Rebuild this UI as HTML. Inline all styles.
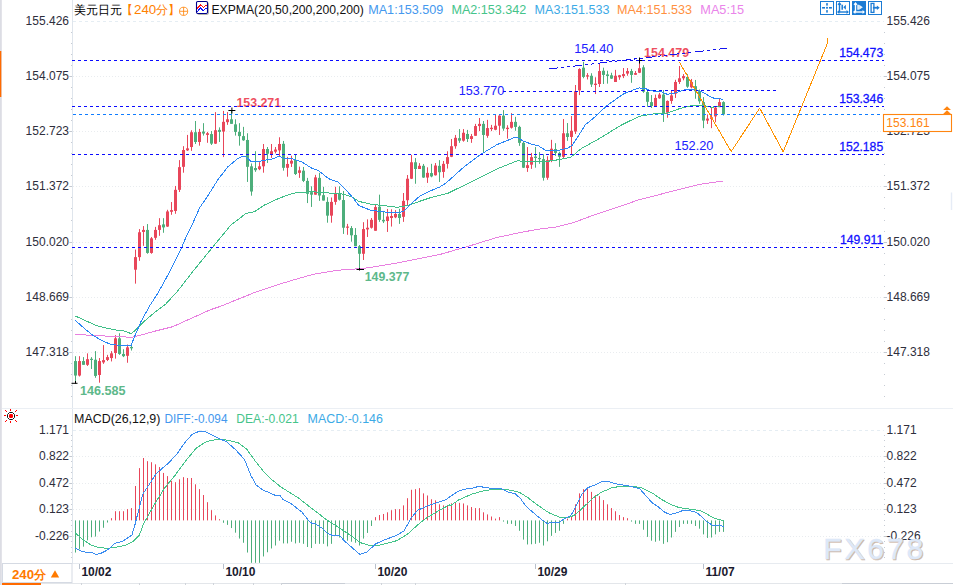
<!DOCTYPE html>
<html><head><meta charset="utf-8"><title>chart</title>
<style>
html,body{margin:0;padding:0;background:#fff}
body{width:953px;height:585px;overflow:hidden;position:relative}
svg{position:absolute;left:0;top:0;display:block}
text{font-family:"Liberation Sans",sans-serif}
</style></head><body>
<svg width="953" height="585" viewBox="0 0 953 585">
<rect x="0" y="0" width="953" height="585" fill="#ffffff"/>
<rect x="0" y="0" width="1.8" height="585" fill="#dcdde4"/>
<rect x="0" y="51" width="1.3" height="46" fill="#ff6a00"/>
<line x1="72.50" y1="0.00" x2="72.50" y2="563.00" stroke="#dfe5ec" stroke-width="1" />
<line x1="2.00" y1="408.50" x2="953.00" y2="408.50" stroke="#ebeff4" stroke-width="1" />
<rect x="950.8" y="192.5" width="1.4" height="17.5" fill="#e6ecf6"/>
<line x1="2.00" y1="563.50" x2="953.00" y2="563.50" stroke="#e7ebf0" stroke-width="1" />
<rect x="71" y="32.0" width="1" height="1" fill="#c6cbd3"/><rect x="884" y="32.0" width="1" height="1" fill="#c6cbd3"/>
<rect x="71" y="43.0" width="1" height="1" fill="#c6cbd3"/><rect x="884" y="43.0" width="1" height="1" fill="#c6cbd3"/>
<rect x="71" y="54.0" width="1" height="1" fill="#c6cbd3"/><rect x="884" y="54.0" width="1" height="1" fill="#c6cbd3"/>
<rect x="71" y="65.0" width="1" height="1" fill="#c6cbd3"/><rect x="884" y="65.0" width="1" height="1" fill="#c6cbd3"/>
<rect x="71" y="87.0" width="1" height="1" fill="#c6cbd3"/><rect x="884" y="87.0" width="1" height="1" fill="#c6cbd3"/>
<rect x="71" y="98.0" width="1" height="1" fill="#c6cbd3"/><rect x="884" y="98.0" width="1" height="1" fill="#c6cbd3"/>
<rect x="71" y="109.0" width="1" height="1" fill="#c6cbd3"/><rect x="884" y="109.0" width="1" height="1" fill="#c6cbd3"/>
<rect x="71" y="120.0" width="1" height="1" fill="#c6cbd3"/><rect x="884" y="120.0" width="1" height="1" fill="#c6cbd3"/>
<rect x="71" y="142.0" width="1" height="1" fill="#c6cbd3"/><rect x="884" y="142.0" width="1" height="1" fill="#c6cbd3"/>
<rect x="71" y="153.0" width="1" height="1" fill="#c6cbd3"/><rect x="884" y="153.0" width="1" height="1" fill="#c6cbd3"/>
<rect x="71" y="164.0" width="1" height="1" fill="#c6cbd3"/><rect x="884" y="164.0" width="1" height="1" fill="#c6cbd3"/>
<rect x="71" y="175.0" width="1" height="1" fill="#c6cbd3"/><rect x="884" y="175.0" width="1" height="1" fill="#c6cbd3"/>
<rect x="71" y="197.0" width="1" height="1" fill="#c6cbd3"/><rect x="884" y="197.0" width="1" height="1" fill="#c6cbd3"/>
<rect x="71" y="208.0" width="1" height="1" fill="#c6cbd3"/><rect x="884" y="208.0" width="1" height="1" fill="#c6cbd3"/>
<rect x="71" y="220.0" width="1" height="1" fill="#c6cbd3"/><rect x="884" y="220.0" width="1" height="1" fill="#c6cbd3"/>
<rect x="71" y="231.0" width="1" height="1" fill="#c6cbd3"/><rect x="884" y="231.0" width="1" height="1" fill="#c6cbd3"/>
<rect x="71" y="253.0" width="1" height="1" fill="#c6cbd3"/><rect x="884" y="253.0" width="1" height="1" fill="#c6cbd3"/>
<rect x="71" y="264.0" width="1" height="1" fill="#c6cbd3"/><rect x="884" y="264.0" width="1" height="1" fill="#c6cbd3"/>
<rect x="71" y="275.0" width="1" height="1" fill="#c6cbd3"/><rect x="884" y="275.0" width="1" height="1" fill="#c6cbd3"/>
<rect x="71" y="286.0" width="1" height="1" fill="#c6cbd3"/><rect x="884" y="286.0" width="1" height="1" fill="#c6cbd3"/>
<rect x="71" y="308.0" width="1" height="1" fill="#c6cbd3"/><rect x="884" y="308.0" width="1" height="1" fill="#c6cbd3"/>
<rect x="71" y="319.0" width="1" height="1" fill="#c6cbd3"/><rect x="884" y="319.0" width="1" height="1" fill="#c6cbd3"/>
<rect x="71" y="330.0" width="1" height="1" fill="#c6cbd3"/><rect x="884" y="330.0" width="1" height="1" fill="#c6cbd3"/>
<rect x="71" y="341.0" width="1" height="1" fill="#c6cbd3"/><rect x="884" y="341.0" width="1" height="1" fill="#c6cbd3"/>
<rect x="71" y="363.0" width="1" height="1" fill="#c6cbd3"/><rect x="884" y="363.0" width="1" height="1" fill="#c6cbd3"/>
<rect x="71" y="374.0" width="1" height="1" fill="#c6cbd3"/><rect x="884" y="374.0" width="1" height="1" fill="#c6cbd3"/>
<rect x="71" y="385.0" width="1" height="1" fill="#c6cbd3"/><rect x="884" y="385.0" width="1" height="1" fill="#c6cbd3"/>
<rect x="71" y="396.0" width="1" height="1" fill="#c6cbd3"/><rect x="884" y="396.0" width="1" height="1" fill="#c6cbd3"/>
<rect x="71" y="435.0" width="1" height="1" fill="#c6cbd3"/><rect x="884" y="435.0" width="1" height="1" fill="#c6cbd3"/>
<rect x="71" y="440.0" width="1" height="1" fill="#c6cbd3"/><rect x="884" y="440.0" width="1" height="1" fill="#c6cbd3"/>
<rect x="71" y="446.0" width="1" height="1" fill="#c6cbd3"/><rect x="884" y="446.0" width="1" height="1" fill="#c6cbd3"/>
<rect x="71" y="451.0" width="1" height="1" fill="#c6cbd3"/><rect x="884" y="451.0" width="1" height="1" fill="#c6cbd3"/>
<rect x="71" y="461.0" width="1" height="1" fill="#c6cbd3"/><rect x="884" y="461.0" width="1" height="1" fill="#c6cbd3"/>
<rect x="71" y="467.0" width="1" height="1" fill="#c6cbd3"/><rect x="884" y="467.0" width="1" height="1" fill="#c6cbd3"/>
<rect x="71" y="472.0" width="1" height="1" fill="#c6cbd3"/><rect x="884" y="472.0" width="1" height="1" fill="#c6cbd3"/>
<rect x="71" y="478.0" width="1" height="1" fill="#c6cbd3"/><rect x="884" y="478.0" width="1" height="1" fill="#c6cbd3"/>
<rect x="71" y="488.0" width="1" height="1" fill="#c6cbd3"/><rect x="884" y="488.0" width="1" height="1" fill="#c6cbd3"/>
<rect x="71" y="493.0" width="1" height="1" fill="#c6cbd3"/><rect x="884" y="493.0" width="1" height="1" fill="#c6cbd3"/>
<rect x="71" y="499.0" width="1" height="1" fill="#c6cbd3"/><rect x="884" y="499.0" width="1" height="1" fill="#c6cbd3"/>
<rect x="71" y="504.0" width="1" height="1" fill="#c6cbd3"/><rect x="884" y="504.0" width="1" height="1" fill="#c6cbd3"/>
<rect x="71" y="514.0" width="1" height="1" fill="#c6cbd3"/><rect x="884" y="514.0" width="1" height="1" fill="#c6cbd3"/>
<rect x="71" y="520.0" width="1" height="1" fill="#c6cbd3"/><rect x="884" y="520.0" width="1" height="1" fill="#c6cbd3"/>
<rect x="71" y="525.0" width="1" height="1" fill="#c6cbd3"/><rect x="884" y="525.0" width="1" height="1" fill="#c6cbd3"/>
<rect x="71" y="531.0" width="1" height="1" fill="#c6cbd3"/><rect x="884" y="531.0" width="1" height="1" fill="#c6cbd3"/>
<rect x="71" y="541.0" width="1" height="1" fill="#c6cbd3"/><rect x="884" y="541.0" width="1" height="1" fill="#c6cbd3"/>
<rect x="71" y="547.0" width="1" height="1" fill="#c6cbd3"/><rect x="884" y="547.0" width="1" height="1" fill="#c6cbd3"/>
<rect x="71" y="552.0" width="1" height="1" fill="#c6cbd3"/><rect x="884" y="552.0" width="1" height="1" fill="#c6cbd3"/>
<rect x="71" y="557.0" width="1" height="1" fill="#c6cbd3"/><rect x="884" y="557.0" width="1" height="1" fill="#c6cbd3"/>
<line x1="73.00" y1="21.50" x2="884.00" y2="21.50" stroke="#e5edf3" stroke-width="1" stroke-dasharray="3 3"/>
<text x="69.00" y="25.10" fill="#2e2e3c" font-size="12" font-weight="normal" text-anchor="end" >155.426</text>
<text x="886.60" y="25.10" fill="#2e2e3c" font-size="12" font-weight="normal" text-anchor="start" >155.426</text>
<line x1="73.00" y1="76.50" x2="884.00" y2="76.50" stroke="#e9ecef" stroke-width="1" stroke-dasharray="1 2"/>
<line x1="69.30" y1="76.50" x2="72.00" y2="76.50" stroke="#c3c8d0" stroke-width="1" />
<line x1="884.00" y1="76.50" x2="887.00" y2="76.50" stroke="#c3c8d0" stroke-width="1" />
<text x="69.00" y="80.10" fill="#2e2e3c" font-size="12" font-weight="normal" text-anchor="end" >154.075</text>
<text x="886.60" y="80.10" fill="#2e2e3c" font-size="12" font-weight="normal" text-anchor="start" >154.075</text>
<line x1="73.00" y1="131.50" x2="884.00" y2="131.50" stroke="#e9ecef" stroke-width="1" stroke-dasharray="1 2"/>
<line x1="69.30" y1="131.50" x2="72.00" y2="131.50" stroke="#c3c8d0" stroke-width="1" />
<line x1="884.00" y1="131.50" x2="887.00" y2="131.50" stroke="#c3c8d0" stroke-width="1" />
<text x="69.00" y="135.10" fill="#2e2e3c" font-size="12" font-weight="normal" text-anchor="end" >152.723</text>
<text x="886.60" y="135.10" fill="#2e2e3c" font-size="12" font-weight="normal" text-anchor="start" >152.723</text>
<line x1="73.00" y1="186.50" x2="884.00" y2="186.50" stroke="#e9ecef" stroke-width="1" stroke-dasharray="1 2"/>
<line x1="69.30" y1="186.50" x2="72.00" y2="186.50" stroke="#c3c8d0" stroke-width="1" />
<line x1="884.00" y1="186.50" x2="887.00" y2="186.50" stroke="#c3c8d0" stroke-width="1" />
<text x="69.00" y="190.10" fill="#2e2e3c" font-size="12" font-weight="normal" text-anchor="end" >151.372</text>
<text x="886.60" y="190.10" fill="#2e2e3c" font-size="12" font-weight="normal" text-anchor="start" >151.372</text>
<line x1="73.00" y1="242.50" x2="884.00" y2="242.50" stroke="#e9ecef" stroke-width="1" stroke-dasharray="1 2"/>
<line x1="69.30" y1="242.50" x2="72.00" y2="242.50" stroke="#c3c8d0" stroke-width="1" />
<line x1="884.00" y1="242.50" x2="887.00" y2="242.50" stroke="#c3c8d0" stroke-width="1" />
<text x="69.00" y="246.10" fill="#2e2e3c" font-size="12" font-weight="normal" text-anchor="end" >150.020</text>
<text x="886.60" y="246.10" fill="#2e2e3c" font-size="12" font-weight="normal" text-anchor="start" >150.020</text>
<line x1="73.00" y1="297.50" x2="884.00" y2="297.50" stroke="#e9ecef" stroke-width="1" stroke-dasharray="1 2"/>
<line x1="69.30" y1="297.50" x2="72.00" y2="297.50" stroke="#c3c8d0" stroke-width="1" />
<line x1="884.00" y1="297.50" x2="887.00" y2="297.50" stroke="#c3c8d0" stroke-width="1" />
<text x="69.00" y="301.10" fill="#2e2e3c" font-size="12" font-weight="normal" text-anchor="end" >148.669</text>
<text x="886.60" y="301.10" fill="#2e2e3c" font-size="12" font-weight="normal" text-anchor="start" >148.669</text>
<line x1="73.00" y1="352.50" x2="884.00" y2="352.50" stroke="#e9ecef" stroke-width="1" stroke-dasharray="1 2"/>
<line x1="69.30" y1="352.50" x2="72.00" y2="352.50" stroke="#c3c8d0" stroke-width="1" />
<line x1="884.00" y1="352.50" x2="887.00" y2="352.50" stroke="#c3c8d0" stroke-width="1" />
<text x="69.00" y="356.10" fill="#2e2e3c" font-size="12" font-weight="normal" text-anchor="end" >147.318</text>
<text x="886.60" y="356.10" fill="#2e2e3c" font-size="12" font-weight="normal" text-anchor="start" >147.318</text>
<line x1="73.00" y1="430.50" x2="884.00" y2="430.50" stroke="#e5edf3" stroke-width="1" stroke-dasharray="3 3"/>
<text x="69.00" y="434.10" fill="#2e2e3c" font-size="12" font-weight="normal" text-anchor="end" >1.171</text>
<text x="886.60" y="434.10" fill="#2e2e3c" font-size="12" font-weight="normal" text-anchor="start" >1.171</text>
<line x1="73.00" y1="456.50" x2="884.00" y2="456.50" stroke="#e9ecef" stroke-width="1" stroke-dasharray="1 2"/>
<line x1="69.30" y1="456.50" x2="72.00" y2="456.50" stroke="#c3c8d0" stroke-width="1" />
<line x1="884.00" y1="456.50" x2="887.00" y2="456.50" stroke="#c3c8d0" stroke-width="1" />
<text x="69.00" y="460.10" fill="#2e2e3c" font-size="12" font-weight="normal" text-anchor="end" >0.822</text>
<text x="886.60" y="460.10" fill="#2e2e3c" font-size="12" font-weight="normal" text-anchor="start" >0.822</text>
<line x1="73.00" y1="483.50" x2="884.00" y2="483.50" stroke="#e9ecef" stroke-width="1" stroke-dasharray="1 2"/>
<line x1="69.30" y1="483.50" x2="72.00" y2="483.50" stroke="#c3c8d0" stroke-width="1" />
<line x1="884.00" y1="483.50" x2="887.00" y2="483.50" stroke="#c3c8d0" stroke-width="1" />
<text x="69.00" y="487.10" fill="#2e2e3c" font-size="12" font-weight="normal" text-anchor="end" >0.472</text>
<text x="886.60" y="487.10" fill="#2e2e3c" font-size="12" font-weight="normal" text-anchor="start" >0.472</text>
<line x1="73.00" y1="509.50" x2="884.00" y2="509.50" stroke="#e9ecef" stroke-width="1" stroke-dasharray="1 2"/>
<line x1="69.30" y1="509.50" x2="72.00" y2="509.50" stroke="#c3c8d0" stroke-width="1" />
<line x1="884.00" y1="509.50" x2="887.00" y2="509.50" stroke="#c3c8d0" stroke-width="1" />
<text x="69.00" y="513.10" fill="#2e2e3c" font-size="12" font-weight="normal" text-anchor="end" >0.123</text>
<text x="886.60" y="513.10" fill="#2e2e3c" font-size="12" font-weight="normal" text-anchor="start" >0.123</text>
<line x1="73.00" y1="536.50" x2="884.00" y2="536.50" stroke="#e9ecef" stroke-width="1" stroke-dasharray="1 2"/>
<line x1="69.30" y1="536.50" x2="72.00" y2="536.50" stroke="#c3c8d0" stroke-width="1" />
<line x1="884.00" y1="536.50" x2="887.00" y2="536.50" stroke="#c3c8d0" stroke-width="1" />
<text x="69.00" y="540.10" fill="#2e2e3c" font-size="12" font-weight="normal" text-anchor="end" >-0.226</text>
<text x="886.60" y="540.10" fill="#2e2e3c" font-size="12" font-weight="normal" text-anchor="start" >-0.226</text>
<line x1="75.50" y1="356.18" x2="75.50" y2="383.07" stroke="#4dae7b" stroke-width="1" />
<rect x="74.0" y="361.07" width="3" height="14.48" fill="#4dae7b"/>
<line x1="79.50" y1="356.18" x2="79.50" y2="376.49" stroke="#e8465a" stroke-width="1" />
<rect x="78.0" y="361.07" width="3" height="14.48" fill="#e8465a"/>
<line x1="83.50" y1="357.12" x2="83.50" y2="364.83" stroke="#4dae7b" stroke-width="1" />
<rect x="82.0" y="361.07" width="3" height="3.76" fill="#4dae7b"/>
<line x1="87.50" y1="353.36" x2="87.50" y2="365.96" stroke="#e8465a" stroke-width="1" />
<rect x="86.0" y="359.19" width="3" height="5.64" fill="#e8465a"/>
<line x1="91.50" y1="357.12" x2="91.50" y2="368.97" stroke="#4dae7b" stroke-width="1" />
<rect x="90.0" y="358.81" width="3" height="1.13" fill="#4dae7b"/>
<line x1="95.50" y1="351.10" x2="95.50" y2="377.80" stroke="#4dae7b" stroke-width="1" />
<rect x="94.0" y="359.75" width="3" height="16.17" fill="#4dae7b"/>
<line x1="99.50" y1="358.06" x2="99.50" y2="382.69" stroke="#e8465a" stroke-width="1" />
<rect x="98.0" y="361.07" width="3" height="13.91" fill="#e8465a"/>
<line x1="103.50" y1="345.09" x2="103.50" y2="363.89" stroke="#e8465a" stroke-width="1" />
<rect x="102.0" y="360.13" width="3" height="2.26" fill="#e8465a"/>
<line x1="107.50" y1="354.86" x2="107.50" y2="361.07" stroke="#e8465a" stroke-width="1" />
<rect x="106.0" y="357.12" width="3" height="2.82" fill="#e8465a"/>
<line x1="111.50" y1="351.10" x2="111.50" y2="361.45" stroke="#e8465a" stroke-width="1" />
<rect x="110.0" y="353.36" width="3" height="4.70" fill="#e8465a"/>
<line x1="115.50" y1="335.12" x2="115.50" y2="358.63" stroke="#e8465a" stroke-width="1" />
<rect x="114.0" y="338.32" width="3" height="14.67" fill="#e8465a"/>
<line x1="119.50" y1="333.24" x2="119.50" y2="354.86" stroke="#4dae7b" stroke-width="1" />
<rect x="118.0" y="338.32" width="3" height="15.61" fill="#4dae7b"/>
<line x1="123.50" y1="349.22" x2="123.50" y2="357.12" stroke="#4dae7b" stroke-width="1" />
<rect x="122.0" y="353.92" width="3" height="2.26" fill="#4dae7b"/>
<line x1="127.50" y1="344.52" x2="127.50" y2="362.76" stroke="#e8465a" stroke-width="1" />
<rect x="126.0" y="347.34" width="3" height="8.46" fill="#e8465a"/>
<line x1="131.50" y1="346.03" x2="131.50" y2="350.54" stroke="#4dae7b" stroke-width="1" />
<rect x="130.0" y="346.97" width="3" height="1.32" fill="#4dae7b"/>
<line x1="135.50" y1="249.57" x2="135.50" y2="283.65" stroke="#e8465a" stroke-width="1" />
<rect x="134.0" y="257.12" width="3" height="12.59" fill="#e8465a"/>
<line x1="139.50" y1="229.08" x2="139.50" y2="260.82" stroke="#e8465a" stroke-width="1" />
<rect x="138.0" y="232.27" width="3" height="24.85" fill="#e8465a"/>
<line x1="143.50" y1="226.06" x2="143.50" y2="245.87" stroke="#e8465a" stroke-width="1" />
<rect x="142.0" y="229.92" width="3" height="2.01" fill="#e8465a"/>
<line x1="147.50" y1="224.05" x2="147.50" y2="253.76" stroke="#4dae7b" stroke-width="1" />
<rect x="146.0" y="229.92" width="3" height="23.00" fill="#4dae7b"/>
<line x1="151.50" y1="236.97" x2="151.50" y2="253.76" stroke="#e8465a" stroke-width="1" />
<rect x="150.0" y="238.32" width="3" height="14.61" fill="#e8465a"/>
<line x1="155.50" y1="226.90" x2="155.50" y2="239.83" stroke="#e8465a" stroke-width="1" />
<rect x="154.0" y="229.92" width="3" height="7.89" fill="#e8465a"/>
<line x1="159.50" y1="218.17" x2="159.50" y2="235.80" stroke="#e8465a" stroke-width="1" />
<rect x="158.0" y="225.22" width="3" height="4.70" fill="#e8465a"/>
<line x1="163.50" y1="218.17" x2="163.50" y2="232.78" stroke="#4dae7b" stroke-width="1" />
<rect x="162.0" y="224.38" width="3" height="3.02" fill="#4dae7b"/>
<line x1="167.50" y1="209.78" x2="167.50" y2="226.90" stroke="#e8465a" stroke-width="1" />
<rect x="166.0" y="211.45" width="3" height="15.11" fill="#e8465a"/>
<line x1="171.50" y1="202.05" x2="171.50" y2="214.81" stroke="#e8465a" stroke-width="1" />
<rect x="170.0" y="210.11" width="3" height="1.68" fill="#e8465a"/>
<line x1="175.50" y1="185.96" x2="175.50" y2="213.80" stroke="#e8465a" stroke-width="1" />
<rect x="174.0" y="189.83" width="3" height="21.12" fill="#e8465a"/>
<line x1="179.50" y1="160.11" x2="179.50" y2="192.01" stroke="#e8465a" stroke-width="1" />
<rect x="178.0" y="167.16" width="3" height="22.67" fill="#e8465a"/>
<line x1="183.50" y1="146.17" x2="183.50" y2="172.70" stroke="#e8465a" stroke-width="1" />
<rect x="182.0" y="150.03" width="3" height="16.79" fill="#e8465a"/>
<line x1="187.50" y1="134.92" x2="187.50" y2="150.87" stroke="#e8465a" stroke-width="1" />
<rect x="186.0" y="148.35" width="3" height="2.01" fill="#e8465a"/>
<line x1="191.50" y1="130.22" x2="191.50" y2="150.87" stroke="#e8465a" stroke-width="1" />
<rect x="190.0" y="132.24" width="3" height="14.78" fill="#e8465a"/>
<line x1="195.50" y1="120.99" x2="195.50" y2="143.99" stroke="#4dae7b" stroke-width="1" />
<rect x="194.0" y="132.24" width="3" height="9.74" fill="#4dae7b"/>
<line x1="199.50" y1="128.88" x2="199.50" y2="145.67" stroke="#e8465a" stroke-width="1" />
<rect x="198.0" y="131.90" width="3" height="10.07" fill="#e8465a"/>
<line x1="203.50" y1="123.17" x2="203.50" y2="135.59" stroke="#4dae7b" stroke-width="1" />
<rect x="202.0" y="131.56" width="3" height="2.01" fill="#4dae7b"/>
<line x1="207.50" y1="131.90" x2="207.50" y2="142.81" stroke="#e8465a" stroke-width="1" />
<rect x="206.0" y="133.24" width="3" height="1.68" fill="#e8465a"/>
<line x1="211.50" y1="131.06" x2="211.50" y2="145.00" stroke="#4dae7b" stroke-width="1" />
<rect x="210.0" y="134.08" width="3" height="9.57" fill="#4dae7b"/>
<line x1="215.50" y1="112.09" x2="215.50" y2="143.99" stroke="#e8465a" stroke-width="1" />
<rect x="214.0" y="130.22" width="3" height="13.43" fill="#e8465a"/>
<line x1="219.50" y1="127.37" x2="219.50" y2="141.97" stroke="#4dae7b" stroke-width="1" />
<rect x="218.0" y="129.89" width="3" height="2.01" fill="#4dae7b"/>
<line x1="223.50" y1="110.91" x2="223.50" y2="157.09" stroke="#e8465a" stroke-width="1" />
<rect x="222.0" y="121.83" width="3" height="9.74" fill="#e8465a"/>
<line x1="227.50" y1="112.09" x2="227.50" y2="124.85" stroke="#e8465a" stroke-width="1" />
<rect x="226.0" y="119.31" width="3" height="2.85" fill="#e8465a"/>
<line x1="231.50" y1="110.91" x2="231.50" y2="123.84" stroke="#4dae7b" stroke-width="1" />
<rect x="230.0" y="119.31" width="3" height="4.53" fill="#4dae7b"/>
<line x1="235.50" y1="119.31" x2="235.50" y2="135.59" stroke="#4dae7b" stroke-width="1" />
<rect x="234.0" y="124.35" width="3" height="7.56" fill="#4dae7b"/>
<line x1="239.50" y1="123.17" x2="239.50" y2="145.67" stroke="#4dae7b" stroke-width="1" />
<rect x="238.0" y="131.90" width="3" height="4.20" fill="#4dae7b"/>
<line x1="243.50" y1="126.86" x2="243.50" y2="140.80" stroke="#4dae7b" stroke-width="1" />
<rect x="242.0" y="136.10" width="3" height="4.20" fill="#4dae7b"/>
<line x1="247.50" y1="133.24" x2="247.50" y2="181.93" stroke="#4dae7b" stroke-width="1" />
<rect x="246.0" y="139.96" width="3" height="26.86" fill="#4dae7b"/>
<line x1="251.50" y1="163.47" x2="251.50" y2="195.70" stroke="#4dae7b" stroke-width="1" />
<rect x="250.0" y="166.32" width="3" height="25.18" fill="#4dae7b"/>
<line x1="255.50" y1="151.21" x2="255.50" y2="171.86" stroke="#4dae7b" stroke-width="1" />
<rect x="254.0" y="168.00" width="3" height="2.18" fill="#4dae7b"/>
<line x1="259.50" y1="162.12" x2="259.50" y2="170.18" stroke="#e8465a" stroke-width="1" />
<rect x="258.0" y="166.32" width="3" height="2.85" fill="#e8465a"/>
<line x1="263.50" y1="143.99" x2="263.50" y2="172.70" stroke="#e8465a" stroke-width="1" />
<rect x="262.0" y="149.03" width="3" height="17.29" fill="#e8465a"/>
<line x1="267.50" y1="147.01" x2="267.50" y2="162.96" stroke="#4dae7b" stroke-width="1" />
<rect x="266.0" y="149.03" width="3" height="4.70" fill="#4dae7b"/>
<line x1="271.50" y1="143.99" x2="271.50" y2="157.92" stroke="#e8465a" stroke-width="1" />
<rect x="270.0" y="151.21" width="3" height="3.36" fill="#e8465a"/>
<line x1="275.50" y1="147.01" x2="275.50" y2="153.39" stroke="#e8465a" stroke-width="1" />
<rect x="274.0" y="149.53" width="3" height="2.18" fill="#e8465a"/>
<line x1="279.50" y1="137.27" x2="279.50" y2="156.25" stroke="#e8465a" stroke-width="1" />
<rect x="278.0" y="143.99" width="3" height="6.38" fill="#e8465a"/>
<line x1="283.50" y1="140.95" x2="283.50" y2="170.67" stroke="#4dae7b" stroke-width="1" />
<rect x="282.0" y="143.80" width="3" height="24.01" fill="#4dae7b"/>
<line x1="287.50" y1="156.90" x2="287.50" y2="176.71" stroke="#e8465a" stroke-width="1" />
<rect x="286.0" y="163.95" width="3" height="3.86" fill="#e8465a"/>
<line x1="291.50" y1="155.73" x2="291.50" y2="166.97" stroke="#e8465a" stroke-width="1" />
<rect x="290.0" y="160.76" width="3" height="2.85" fill="#e8465a"/>
<line x1="295.50" y1="154.89" x2="295.50" y2="175.03" stroke="#4dae7b" stroke-width="1" />
<rect x="294.0" y="159.92" width="3" height="14.10" fill="#4dae7b"/>
<line x1="299.50" y1="166.64" x2="299.50" y2="177.89" stroke="#e8465a" stroke-width="1" />
<rect x="298.0" y="170.33" width="3" height="2.52" fill="#e8465a"/>
<line x1="303.50" y1="166.97" x2="303.50" y2="182.09" stroke="#4dae7b" stroke-width="1" />
<rect x="302.0" y="170.67" width="3" height="10.24" fill="#4dae7b"/>
<line x1="307.50" y1="177.89" x2="307.50" y2="203.07" stroke="#4dae7b" stroke-width="1" />
<rect x="306.0" y="180.91" width="3" height="12.93" fill="#4dae7b"/>
<line x1="311.50" y1="186.28" x2="311.50" y2="206.93" stroke="#4dae7b" stroke-width="1" />
<rect x="310.0" y="192.16" width="3" height="2.52" fill="#4dae7b"/>
<line x1="315.50" y1="174.87" x2="315.50" y2="194.68" stroke="#e8465a" stroke-width="1" />
<rect x="314.0" y="177.38" width="3" height="17.29" fill="#e8465a"/>
<line x1="319.50" y1="172.85" x2="319.50" y2="200.89" stroke="#4dae7b" stroke-width="1" />
<rect x="318.0" y="177.89" width="3" height="17.63" fill="#4dae7b"/>
<line x1="323.50" y1="186.79" x2="323.50" y2="200.55" stroke="#4dae7b" stroke-width="1" />
<rect x="322.0" y="195.18" width="3" height="5.37" fill="#4dae7b"/>
<line x1="327.50" y1="197.20" x2="327.50" y2="222.70" stroke="#4dae7b" stroke-width="1" />
<rect x="326.0" y="201.90" width="3" height="13.75" fill="#4dae7b"/>
<line x1="331.50" y1="197.53" x2="331.50" y2="222.70" stroke="#e8465a" stroke-width="1" />
<rect x="330.0" y="201.90" width="3" height="13.75" fill="#e8465a"/>
<line x1="335.50" y1="186.79" x2="335.50" y2="204.75" stroke="#e8465a" stroke-width="1" />
<rect x="334.0" y="193.00" width="3" height="8.90" fill="#e8465a"/>
<line x1="339.50" y1="186.28" x2="339.50" y2="200.55" stroke="#4dae7b" stroke-width="1" />
<rect x="338.0" y="193.00" width="3" height="6.72" fill="#4dae7b"/>
<line x1="343.50" y1="190.98" x2="343.50" y2="233.95" stroke="#4dae7b" stroke-width="1" />
<rect x="342.0" y="200.05" width="3" height="27.69" fill="#4dae7b"/>
<line x1="347.50" y1="223.88" x2="347.50" y2="234.79" stroke="#e8465a" stroke-width="1" />
<rect x="346.0" y="226.56" width="3" height="1.18" fill="#e8465a"/>
<line x1="351.50" y1="226.06" x2="351.50" y2="241.68" stroke="#4dae7b" stroke-width="1" />
<rect x="350.0" y="228.08" width="3" height="7.22" fill="#4dae7b"/>
<line x1="355.50" y1="228.08" x2="355.50" y2="246.21" stroke="#4dae7b" stroke-width="1" />
<rect x="354.0" y="234.96" width="3" height="11.25" fill="#4dae7b"/>
<line x1="359.50" y1="245.03" x2="359.50" y2="268.88" stroke="#4dae7b" stroke-width="1" />
<rect x="358.0" y="246.21" width="3" height="7.56" fill="#4dae7b"/>
<line x1="363.50" y1="222.20" x2="363.50" y2="259.98" stroke="#e8465a" stroke-width="1" />
<rect x="362.0" y="229.08" width="3" height="24.68" fill="#e8465a"/>
<line x1="367.50" y1="219.35" x2="367.50" y2="236.97" stroke="#e8465a" stroke-width="1" />
<rect x="366.0" y="227.74" width="3" height="1.68" fill="#e8465a"/>
<line x1="371.50" y1="218.00" x2="371.50" y2="228.58" stroke="#e8465a" stroke-width="1" />
<rect x="370.0" y="219.85" width="3" height="7.89" fill="#e8465a"/>
<line x1="375.50" y1="204.74" x2="375.50" y2="230.76" stroke="#e8465a" stroke-width="1" />
<rect x="374.0" y="207.09" width="3" height="23.67" fill="#e8465a"/>
<line x1="379.50" y1="194.66" x2="379.50" y2="221.86" stroke="#4dae7b" stroke-width="1" />
<rect x="378.0" y="206.75" width="3" height="13.10" fill="#4dae7b"/>
<line x1="383.50" y1="210.95" x2="383.50" y2="223.04" stroke="#4dae7b" stroke-width="1" />
<rect x="382.0" y="219.85" width="3" height="1.51" fill="#4dae7b"/>
<line x1="387.50" y1="208.94" x2="387.50" y2="231.94" stroke="#e8465a" stroke-width="1" />
<rect x="386.0" y="216.49" width="3" height="4.53" fill="#e8465a"/>
<line x1="391.50" y1="209.27" x2="391.50" y2="226.56" stroke="#e8465a" stroke-width="1" />
<rect x="390.0" y="215.99" width="3" height="2.01" fill="#e8465a"/>
<line x1="395.50" y1="210.11" x2="395.50" y2="218.17" stroke="#e8465a" stroke-width="1" />
<rect x="394.0" y="213.97" width="3" height="3.36" fill="#e8465a"/>
<line x1="399.50" y1="208.77" x2="399.50" y2="223.88" stroke="#4dae7b" stroke-width="1" />
<rect x="398.0" y="213.97" width="3" height="4.03" fill="#4dae7b"/>
<line x1="403.50" y1="193.00" x2="403.50" y2="221.86" stroke="#e8465a" stroke-width="1" />
<rect x="402.0" y="200.89" width="3" height="15.94" fill="#e8465a"/>
<line x1="407.50" y1="175.03" x2="407.50" y2="205.26" stroke="#e8465a" stroke-width="1" />
<rect x="406.0" y="178.73" width="3" height="21.49" fill="#e8465a"/>
<line x1="411.50" y1="154.89" x2="411.50" y2="179.06" stroke="#e8465a" stroke-width="1" />
<rect x="410.0" y="162.27" width="3" height="16.45" fill="#e8465a"/>
<line x1="415.50" y1="158.08" x2="415.50" y2="183.76" stroke="#4dae7b" stroke-width="1" />
<rect x="414.0" y="162.27" width="3" height="6.72" fill="#4dae7b"/>
<line x1="419.50" y1="163.11" x2="419.50" y2="168.99" stroke="#e8465a" stroke-width="1" />
<rect x="418.0" y="165.80" width="3" height="3.19" fill="#e8465a"/>
<line x1="423.50" y1="163.95" x2="423.50" y2="177.89" stroke="#4dae7b" stroke-width="1" />
<rect x="422.0" y="165.80" width="3" height="11.75" fill="#4dae7b"/>
<line x1="427.50" y1="167.31" x2="427.50" y2="182.92" stroke="#e8465a" stroke-width="1" />
<rect x="426.0" y="172.85" width="3" height="4.70" fill="#e8465a"/>
<line x1="431.50" y1="163.84" x2="431.50" y2="177.27" stroke="#4dae7b" stroke-width="1" />
<rect x="430.0" y="173.07" width="3" height="3.36" fill="#4dae7b"/>
<line x1="435.50" y1="163.00" x2="435.50" y2="175.59" stroke="#e8465a" stroke-width="1" />
<rect x="434.0" y="165.52" width="3" height="9.74" fill="#e8465a"/>
<line x1="439.50" y1="160.14" x2="439.50" y2="181.97" stroke="#4dae7b" stroke-width="1" />
<rect x="438.0" y="165.85" width="3" height="6.38" fill="#4dae7b"/>
<line x1="443.50" y1="160.98" x2="443.50" y2="177.77" stroke="#e8465a" stroke-width="1" />
<rect x="442.0" y="163.84" width="3" height="8.06" fill="#e8465a"/>
<line x1="447.50" y1="151.25" x2="447.50" y2="168.54" stroke="#e8465a" stroke-width="1" />
<rect x="446.0" y="157.12" width="3" height="6.72" fill="#e8465a"/>
<line x1="451.50" y1="138.99" x2="451.50" y2="157.12" stroke="#e8465a" stroke-width="1" />
<rect x="450.0" y="146.21" width="3" height="10.58" fill="#e8465a"/>
<line x1="455.50" y1="134.96" x2="455.50" y2="148.73" stroke="#e8465a" stroke-width="1" />
<rect x="454.0" y="137.81" width="3" height="8.39" fill="#e8465a"/>
<line x1="459.50" y1="129.08" x2="459.50" y2="142.85" stroke="#4dae7b" stroke-width="1" />
<rect x="458.0" y="138.15" width="3" height="2.52" fill="#4dae7b"/>
<line x1="463.50" y1="129.08" x2="463.50" y2="141.68" stroke="#e8465a" stroke-width="1" />
<rect x="462.0" y="132.78" width="3" height="7.89" fill="#e8465a"/>
<line x1="467.50" y1="129.92" x2="467.50" y2="142.01" stroke="#4dae7b" stroke-width="1" />
<rect x="466.0" y="133.95" width="3" height="5.04" fill="#4dae7b"/>
<line x1="471.50" y1="133.95" x2="471.50" y2="142.85" stroke="#e8465a" stroke-width="1" />
<rect x="470.0" y="136.13" width="3" height="2.85" fill="#e8465a"/>
<line x1="475.50" y1="123.88" x2="475.50" y2="135.80" stroke="#e8465a" stroke-width="1" />
<rect x="474.0" y="126.06" width="3" height="9.74" fill="#e8465a"/>
<line x1="479.50" y1="118.00" x2="479.50" y2="131.10" stroke="#e8465a" stroke-width="1" />
<rect x="478.0" y="123.88" width="3" height="2.18" fill="#e8465a"/>
<line x1="483.50" y1="121.02" x2="483.50" y2="152.09" stroke="#4dae7b" stroke-width="1" />
<rect x="482.0" y="123.88" width="3" height="11.08" fill="#4dae7b"/>
<line x1="487.50" y1="119.85" x2="487.50" y2="137.81" stroke="#e8465a" stroke-width="1" />
<rect x="486.0" y="128.08" width="3" height="7.72" fill="#e8465a"/>
<line x1="491.50" y1="124.89" x2="491.50" y2="131.10" stroke="#e8465a" stroke-width="1" />
<rect x="490.0" y="127.74" width="3" height="1.34" fill="#e8465a"/>
<line x1="495.50" y1="114.31" x2="495.50" y2="130.26" stroke="#e8465a" stroke-width="1" />
<rect x="494.0" y="125.73" width="3" height="4.03" fill="#e8465a"/>
<line x1="499.50" y1="115.15" x2="499.50" y2="134.96" stroke="#e8465a" stroke-width="1" />
<rect x="498.0" y="115.65" width="3" height="10.07" fill="#e8465a"/>
<line x1="503.50" y1="110.11" x2="503.50" y2="130.76" stroke="#4dae7b" stroke-width="1" />
<rect x="502.0" y="115.65" width="3" height="12.93" fill="#4dae7b"/>
<line x1="507.50" y1="125.22" x2="507.50" y2="138.65" stroke="#e8465a" stroke-width="1" />
<rect x="506.0" y="127.74" width="3" height="1.34" fill="#e8465a"/>
<line x1="511.50" y1="113.13" x2="511.50" y2="128.58" stroke="#e8465a" stroke-width="1" />
<rect x="510.0" y="121.86" width="3" height="5.88" fill="#e8465a"/>
<line x1="515.50" y1="116.83" x2="515.50" y2="130.76" stroke="#4dae7b" stroke-width="1" />
<rect x="514.0" y="121.86" width="3" height="5.04" fill="#4dae7b"/>
<line x1="519.50" y1="125.73" x2="519.50" y2="145.87" stroke="#4dae7b" stroke-width="1" />
<rect x="518.0" y="126.90" width="3" height="15.95" fill="#4dae7b"/>
<line x1="523.50" y1="142.01" x2="523.50" y2="168.04" stroke="#4dae7b" stroke-width="1" />
<rect x="522.0" y="142.85" width="3" height="24.85" fill="#4dae7b"/>
<line x1="527.50" y1="147.05" x2="527.50" y2="171.90" stroke="#e8465a" stroke-width="1" />
<rect x="526.0" y="165.18" width="3" height="2.85" fill="#e8465a"/>
<line x1="531.50" y1="152.92" x2="531.50" y2="168.88" stroke="#e8465a" stroke-width="1" />
<rect x="530.0" y="157.12" width="3" height="7.56" fill="#e8465a"/>
<line x1="535.50" y1="147.05" x2="535.50" y2="167.70" stroke="#4dae7b" stroke-width="1" />
<rect x="534.0" y="156.62" width="3" height="1.34" fill="#4dae7b"/>
<line x1="539.50" y1="152.09" x2="539.50" y2="163.84" stroke="#4dae7b" stroke-width="1" />
<rect x="538.0" y="157.96" width="3" height="1.18" fill="#4dae7b"/>
<line x1="543.50" y1="154.27" x2="543.50" y2="180.63" stroke="#4dae7b" stroke-width="1" />
<rect x="542.0" y="159.14" width="3" height="18.64" fill="#4dae7b"/>
<line x1="547.50" y1="156.28" x2="547.50" y2="179.79" stroke="#e8465a" stroke-width="1" />
<rect x="546.0" y="160.14" width="3" height="17.63" fill="#e8465a"/>
<line x1="551.50" y1="139.83" x2="551.50" y2="162.16" stroke="#e8465a" stroke-width="1" />
<rect x="550.0" y="148.73" width="3" height="11.42" fill="#e8465a"/>
<line x1="555.50" y1="143.19" x2="555.50" y2="155.95" stroke="#4dae7b" stroke-width="1" />
<rect x="554.0" y="149.06" width="3" height="3.86" fill="#4dae7b"/>
<line x1="559.50" y1="151.75" x2="559.50" y2="166.86" stroke="#4dae7b" stroke-width="1" />
<rect x="558.0" y="152.92" width="3" height="3.86" fill="#4dae7b"/>
<line x1="563.50" y1="119.01" x2="563.50" y2="157.96" stroke="#e8465a" stroke-width="1" />
<rect x="562.0" y="133.28" width="3" height="23.51" fill="#e8465a"/>
<line x1="567.50" y1="123.04" x2="567.50" y2="140.84" stroke="#4dae7b" stroke-width="1" />
<rect x="566.0" y="133.28" width="3" height="3.69" fill="#4dae7b"/>
<line x1="571.50" y1="115.99" x2="571.50" y2="154.60" stroke="#e8465a" stroke-width="1" />
<rect x="570.0" y="130.76" width="3" height="6.21" fill="#e8465a"/>
<line x1="575.50" y1="85.00" x2="575.50" y2="134.02" stroke="#e8465a" stroke-width="1" />
<rect x="574.0" y="91.21" width="3" height="40.30" fill="#e8465a"/>
<line x1="579.50" y1="68.21" x2="579.50" y2="95.07" stroke="#e8465a" stroke-width="1" />
<rect x="578.0" y="69.05" width="3" height="21.32" fill="#e8465a"/>
<line x1="583.50" y1="61.83" x2="583.50" y2="78.28" stroke="#4dae7b" stroke-width="1" />
<rect x="582.0" y="67.70" width="3" height="9.23" fill="#4dae7b"/>
<line x1="587.50" y1="73.08" x2="587.50" y2="79.46" stroke="#e8465a" stroke-width="1" />
<rect x="586.0" y="75.26" width="3" height="1.34" fill="#e8465a"/>
<line x1="591.50" y1="73.24" x2="591.50" y2="87.01" stroke="#4dae7b" stroke-width="1" />
<rect x="590.0" y="75.76" width="3" height="8.73" fill="#4dae7b"/>
<line x1="595.50" y1="77.27" x2="595.50" y2="94.06" stroke="#e8465a" stroke-width="1" />
<rect x="594.0" y="83.65" width="3" height="1.34" fill="#e8465a"/>
<line x1="599.50" y1="63.00" x2="599.50" y2="87.01" stroke="#e8465a" stroke-width="1" />
<rect x="598.0" y="71.06" width="3" height="12.93" fill="#e8465a"/>
<line x1="603.50" y1="67.70" x2="603.50" y2="83.99" stroke="#4dae7b" stroke-width="1" />
<rect x="602.0" y="70.73" width="3" height="4.20" fill="#4dae7b"/>
<line x1="607.50" y1="70.73" x2="607.50" y2="83.65" stroke="#4dae7b" stroke-width="1" />
<rect x="606.0" y="74.42" width="3" height="1.68" fill="#4dae7b"/>
<line x1="611.50" y1="72.74" x2="611.50" y2="78.95" stroke="#4dae7b" stroke-width="1" />
<rect x="610.0" y="75.26" width="3" height="3.36" fill="#4dae7b"/>
<line x1="615.50" y1="69.89" x2="615.50" y2="81.97" stroke="#e8465a" stroke-width="1" />
<rect x="614.0" y="75.76" width="3" height="6.21" fill="#e8465a"/>
<line x1="619.50" y1="74.92" x2="619.50" y2="79.79" stroke="#e8465a" stroke-width="1" />
<rect x="618.0" y="75.26" width="3" height="2.01" fill="#e8465a"/>
<line x1="623.50" y1="68.04" x2="623.50" y2="78.11" stroke="#e8465a" stroke-width="1" />
<rect x="622.0" y="74.08" width="3" height="2.01" fill="#e8465a"/>
<line x1="627.50" y1="68.04" x2="627.50" y2="75.76" stroke="#e8465a" stroke-width="1" />
<rect x="626.0" y="71.06" width="3" height="2.52" fill="#e8465a"/>
<line x1="631.50" y1="68.88" x2="631.50" y2="82.81" stroke="#4dae7b" stroke-width="1" />
<rect x="630.0" y="71.06" width="3" height="3.86" fill="#4dae7b"/>
<line x1="635.50" y1="71.06" x2="635.50" y2="74.92" stroke="#e8465a" stroke-width="1" />
<rect x="634.0" y="73.08" width="3" height="1.68" fill="#e8465a"/>
<line x1="639.50" y1="60.48" x2="639.50" y2="73.08" stroke="#e8465a" stroke-width="1" />
<rect x="638.0" y="68.21" width="3" height="4.53" fill="#e8465a"/>
<line x1="643.50" y1="65.18" x2="643.50" y2="92.89" stroke="#4dae7b" stroke-width="1" />
<rect x="642.0" y="67.37" width="3" height="24.35" fill="#4dae7b"/>
<line x1="647.50" y1="90.03" x2="647.50" y2="106.82" stroke="#4dae7b" stroke-width="1" />
<rect x="646.0" y="92.05" width="3" height="9.74" fill="#4dae7b"/>
<line x1="651.50" y1="95.07" x2="651.50" y2="108.00" stroke="#4dae7b" stroke-width="1" />
<rect x="650.0" y="102.12" width="3" height="3.86" fill="#4dae7b"/>
<line x1="655.50" y1="94.57" x2="655.50" y2="105.98" stroke="#e8465a" stroke-width="1" />
<rect x="654.0" y="97.92" width="3" height="8.06" fill="#e8465a"/>
<line x1="659.50" y1="92.89" x2="659.50" y2="98.76" stroke="#e8465a" stroke-width="1" />
<rect x="658.0" y="94.57" width="3" height="3.69" fill="#e8465a"/>
<line x1="663.50" y1="90.03" x2="663.50" y2="121.93" stroke="#4dae7b" stroke-width="1" />
<rect x="662.0" y="94.57" width="3" height="19.31" fill="#4dae7b"/>
<line x1="667.50" y1="100.44" x2="667.50" y2="117.74" stroke="#e8465a" stroke-width="1" />
<rect x="666.0" y="100.95" width="3" height="11.75" fill="#e8465a"/>
<line x1="671.50" y1="90.87" x2="671.50" y2="103.80" stroke="#e8465a" stroke-width="1" />
<rect x="670.0" y="95.41" width="3" height="5.54" fill="#e8465a"/>
<line x1="675.50" y1="79.79" x2="675.50" y2="97.92" stroke="#e8465a" stroke-width="1" />
<rect x="674.0" y="81.97" width="3" height="11.75" fill="#e8465a"/>
<line x1="679.50" y1="66.02" x2="679.50" y2="83.99" stroke="#e8465a" stroke-width="1" />
<rect x="678.0" y="78.28" width="3" height="3.69" fill="#e8465a"/>
<line x1="683.50" y1="74.08" x2="683.50" y2="80.30" stroke="#e8465a" stroke-width="1" />
<rect x="682.0" y="76.10" width="3" height="2.18" fill="#e8465a"/>
<line x1="687.50" y1="74.08" x2="687.50" y2="87.85" stroke="#4dae7b" stroke-width="1" />
<rect x="686.0" y="76.94" width="3" height="9.74" fill="#4dae7b"/>
<line x1="691.50" y1="78.95" x2="691.50" y2="88.35" stroke="#e8465a" stroke-width="1" />
<rect x="690.0" y="81.97" width="3" height="5.37" fill="#e8465a"/>
<line x1="695.50" y1="79.96" x2="695.50" y2="98.76" stroke="#4dae7b" stroke-width="1" />
<rect x="694.0" y="86.17" width="3" height="5.04" fill="#4dae7b"/>
<line x1="699.50" y1="89.53" x2="699.50" y2="103.80" stroke="#4dae7b" stroke-width="1" />
<rect x="698.0" y="91.21" width="3" height="10.07" fill="#4dae7b"/>
<line x1="703.50" y1="97.09" x2="703.50" y2="128.15" stroke="#4dae7b" stroke-width="1" />
<rect x="702.0" y="102.12" width="3" height="18.47" fill="#4dae7b"/>
<line x1="707.50" y1="114.38" x2="707.50" y2="123.95" stroke="#e8465a" stroke-width="1" />
<rect x="706.0" y="118.58" width="3" height="2.01" fill="#e8465a"/>
<line x1="711.50" y1="108.00" x2="711.50" y2="128.15" stroke="#e8465a" stroke-width="1" />
<rect x="710.0" y="117.23" width="3" height="1.68" fill="#e8465a"/>
<line x1="715.50" y1="106.32" x2="715.50" y2="122.27" stroke="#e8465a" stroke-width="1" />
<rect x="714.0" y="107.66" width="3" height="8.73" fill="#e8465a"/>
<line x1="719.50" y1="98.76" x2="719.50" y2="107.16" stroke="#e8465a" stroke-width="1" />
<rect x="718.0" y="102.12" width="3" height="5.04" fill="#e8465a"/>
<line x1="723.50" y1="101.28" x2="723.50" y2="115.55" stroke="#4dae7b" stroke-width="1" />
<rect x="722.0" y="102.12" width="3" height="12.26" fill="#4dae7b"/>
<polyline fill="none" stroke="#e880e0" stroke-width="1" stroke-linejoin="round" shape-rendering="crispEdges"  points="75.0,334.6 88.2,335.1 107.0,336.1 125.8,337.0 131.4,337.4 140.8,335.1 154.0,331.4 172.8,326.7 191.6,318.2 210.4,309.7 220.0,306.5 253.4,293.0 280.0,284.0 296.8,279.0 313.6,274.2 330.4,271.4 347.2,269.2 358.9,268.9 372.3,267.2 397.5,263.0 414.3,259.6 439.5,254.6 470.9,245.5 496.1,237.7 521.3,232.3 540.2,228.9 555.9,227.0 574.8,222.2 593.7,215.0 618.9,206.8 637.7,200.2 669.2,192.0 700.7,184.2 722.7,181.0"/>
<polyline fill="none" stroke="#40bf88" stroke-width="1" stroke-linejoin="round" shape-rendering="crispEdges"  points="75.0,315.9 84.4,320.1 95.7,325.3 107.0,328.2 116.4,330.0 123.9,331.0 131.1,333.6 135.2,330.4 144.6,321.0 154.0,313.0 165.3,304.5 177.5,291.2 193.8,270.3 212.3,247.6 230.7,225.2 245.9,213.5 254.2,211.8 264.3,205.1 277.7,198.9 288.4,194.7 296.8,192.5 313.6,191.8 335.4,193.5 343.8,194.2 352.2,197.2 358.9,201.4 370.7,204.2 380.7,205.3 397.5,207.3 407.6,205.6 419.4,201.4 431.1,197.5 439.5,195.5 448.5,193.0 480.4,177.3 497.2,168.9 517.3,160.8 530.7,161.8 547.5,161.3 559.3,159.6 571.0,157.1 581.1,148.7 589.5,144.0 600.3,138.0 620.4,125.6 638.9,116.4 654.0,113.9 665.7,113.5 679.2,108.8 690.9,105.8 702.7,105.1 711.1,107.2 722.7,106.3"/>
<polyline fill="none" stroke="#2a86f5" stroke-width="1" stroke-linejoin="round" shape-rendering="crispEdges"  points="75.0,320.1 84.4,328.5 93.8,336.0 103.2,341.1 110.8,344.5 122.0,345.5 131.0,345.5 135.2,335.1 140.8,322.0 150.2,305.0 158.0,293.0 170.3,270.6 181.6,247.6 186.7,235.6 192.8,223.3 199.9,207.3 206.4,198.0 217.3,180.6 227.4,167.2 237.5,158.8 242.5,156.2 245.9,156.7 250.9,161.3 257.6,161.8 264.3,160.4 272.7,158.8 279.4,156.2 283.4,158.2 291.8,158.6 301.8,161.9 311.9,168.3 318.6,170.7 328.7,178.7 337.9,182.1 347.2,191.3 353.9,198.9 358.9,205.6 370.7,210.3 380.7,211.5 387.5,212.3 397.5,212.6 403.4,211.5 411.0,203.9 419.4,196.4 429.4,191.3 439.5,187.1 446.0,183.1 463.6,167.2 480.4,154.6 497.2,144.5 505.0,141.4 514.4,137.6 517.3,137.6 523.9,141.4 533.3,144.7 538.0,145.6 545.6,150.3 557.9,150.8 561.7,149.4 567.3,148.4 572.0,145.6 577.7,137.1 585.3,124.8 590.0,121.1 595.0,116.8 607.0,105.5 623.8,93.7 638.9,87.9 645.6,88.6 650.0,90.4 654.7,91.4 660.4,91.4 667.0,94.2 672.7,93.7 678.3,91.8 685.9,89.5 693.4,89.5 701.0,91.4 708.5,95.6 714.2,98.4 719.9,98.6 722.7,99.6"/>
<line x1="228.40" y1="110.50" x2="235.40" y2="110.50" stroke="#000" stroke-width="1" />
<line x1="231.90" y1="107.50" x2="231.90" y2="113.50" stroke="#000" stroke-width="1" />
<line x1="636.00" y1="60.50" x2="643.00" y2="60.50" stroke="#000" stroke-width="1" />
<line x1="639.50" y1="57.50" x2="639.50" y2="63.50" stroke="#000" stroke-width="1" />
<line x1="71.50" y1="383.30" x2="77.50" y2="383.30" stroke="#000" stroke-width="1" />
<line x1="75.50" y1="381.00" x2="75.50" y2="383.50" stroke="#000" stroke-width="1" />
<line x1="356.50" y1="269.50" x2="364.00" y2="269.50" stroke="#000" stroke-width="1" />
<line x1="359.50" y1="268.00" x2="359.50" y2="270.50" stroke="#000" stroke-width="1" />
<text x="236.40" y="106.60" fill="#ee4f60" font-size="12" font-weight="bold" textLength="44.70" lengthAdjust="spacingAndGlyphs">153.271</text>
<text x="644.10" y="57.00" fill="#ee4f60" font-size="12" font-weight="bold" textLength="45.10" lengthAdjust="spacingAndGlyphs">154.479</text>
<text x="80.10" y="394.80" fill="#5db88a" font-size="12" font-weight="bold" textLength="45.50" lengthAdjust="spacingAndGlyphs">146.585</text>
<text x="364.70" y="281.00" fill="#5db88a" font-size="12" font-weight="bold" textLength="44.60" lengthAdjust="spacingAndGlyphs">149.377</text>
<text x="574.20" y="52.90" fill="#2020ff" font-size="12.4" font-weight="normal" textLength="39.20" lengthAdjust="spacingAndGlyphs">154.40</text>
<text x="458.70" y="94.90" fill="#2020ff" font-size="12.4" font-weight="normal" textLength="45.60" lengthAdjust="spacingAndGlyphs">153.770</text>
<text x="674.40" y="150.00" fill="#2020ff" font-size="12.4" font-weight="normal" textLength="39.10" lengthAdjust="spacingAndGlyphs">152.20</text>
<text x="883.20" y="56.80" fill="#1010ff" font-size="12.2" font-weight="normal" text-anchor="end" stroke="#1010ff" stroke-width="0.28">154.473</text>
<text x="883.20" y="102.70" fill="#1010ff" font-size="12.2" font-weight="normal" text-anchor="end" stroke="#1010ff" stroke-width="0.28">153.346</text>
<text x="883.20" y="150.50" fill="#1010ff" font-size="12.2" font-weight="normal" text-anchor="end" stroke="#1010ff" stroke-width="0.28">152.185</text>
<text x="883.20" y="243.80" fill="#1010ff" font-size="12.2" font-weight="normal" text-anchor="end" stroke="#1010ff" stroke-width="0.28">149.911</text>
<line x1="549.00" y1="69.00" x2="727.00" y2="48.20" stroke="#1414f0" stroke-width="1" stroke-dasharray="9 3 3 3 3 3.45" shape-rendering="crispEdges"/>
<line x1="72.00" y1="60.50" x2="884.00" y2="60.50" stroke="#0a0aff" stroke-width="1" stroke-dasharray="3 3"/>
<line x1="72.00" y1="106.50" x2="884.00" y2="106.50" stroke="#0a0aff" stroke-width="1" stroke-dasharray="3 3"/>
<line x1="73.00" y1="114.50" x2="881.00" y2="114.50" stroke="#0f7cff" stroke-width="1" stroke-dasharray="3 3"/>
<line x1="72.00" y1="154.50" x2="884.00" y2="154.50" stroke="#0a0aff" stroke-width="1" stroke-dasharray="3 3"/>
<line x1="72.00" y1="247.50" x2="884.00" y2="247.50" stroke="#0a0aff" stroke-width="1" stroke-dasharray="3 3"/>
<line x1="503.00" y1="91.50" x2="640.00" y2="91.50" stroke="#0a0aff" stroke-width="1" stroke-dasharray="3 3"/>
<line x1="640.00" y1="90.50" x2="777.00" y2="90.50" stroke="#0a0aff" stroke-width="1" stroke-dasharray="3 3" stroke-dashoffset="5"/>
<polyline fill="none" stroke="#ff9200" stroke-width="1" stroke-linejoin="round" shape-rendering="crispEdges"  points="679.2,61.8 731.2,151.6 759.7,108.1 783.2,151.8 827.7,42.6 827.7,38.0"/>
<rect x="883.5" y="114.5" width="68" height="17" fill="#fff" stroke="#ff8510" stroke-width="1.1"/>
<text x="886.30" y="126.70" fill="#ff8510" font-size="12" font-weight="normal" text-anchor="start" >153.161</text>
<path d="M947 106.2 L951 110 L943.1 110 Z M947 110.2 L951 114 L943.1 114 Z" fill="#ff8510"/>
<line x1="75.50" y1="520.40" x2="75.50" y2="552.54" stroke="#4dae7b" stroke-width="1" />
<line x1="79.50" y1="520.40" x2="79.50" y2="549.39" stroke="#4dae7b" stroke-width="1" />
<line x1="83.50" y1="520.40" x2="83.50" y2="546.66" stroke="#4dae7b" stroke-width="1" />
<line x1="87.50" y1="520.40" x2="87.50" y2="540.37" stroke="#4dae7b" stroke-width="1" />
<line x1="91.50" y1="520.40" x2="91.50" y2="537.22" stroke="#4dae7b" stroke-width="1" />
<line x1="95.50" y1="520.40" x2="95.50" y2="536.59" stroke="#4dae7b" stroke-width="1" />
<line x1="99.50" y1="520.40" x2="99.50" y2="531.55" stroke="#4dae7b" stroke-width="1" />
<line x1="103.50" y1="520.40" x2="103.50" y2="527.78" stroke="#4dae7b" stroke-width="1" />
<line x1="107.50" y1="520.40" x2="107.50" y2="522.53" stroke="#4dae7b" stroke-width="1" />
<line x1="111.50" y1="520.40" x2="111.50" y2="518.17" stroke="#e8465a" stroke-width="1" />
<line x1="115.50" y1="520.40" x2="115.50" y2="511.23" stroke="#e8465a" stroke-width="1" />
<line x1="119.50" y1="520.40" x2="119.50" y2="511.23" stroke="#e8465a" stroke-width="1" />
<line x1="123.50" y1="520.40" x2="123.50" y2="511.23" stroke="#e8465a" stroke-width="1" />
<line x1="127.50" y1="520.40" x2="127.50" y2="509.12" stroke="#e8465a" stroke-width="1" />
<line x1="131.50" y1="520.40" x2="131.50" y2="508.07" stroke="#e8465a" stroke-width="1" />
<line x1="135.50" y1="520.40" x2="135.50" y2="485.99" stroke="#e8465a" stroke-width="1" />
<line x1="139.50" y1="520.40" x2="139.50" y2="468.11" stroke="#e8465a" stroke-width="1" />
<line x1="143.50" y1="520.40" x2="143.50" y2="458.02" stroke="#e8465a" stroke-width="1" />
<line x1="147.50" y1="520.40" x2="147.50" y2="461.17" stroke="#e8465a" stroke-width="1" />
<line x1="151.50" y1="520.40" x2="151.50" y2="462.22" stroke="#e8465a" stroke-width="1" />
<line x1="155.50" y1="520.40" x2="155.50" y2="464.33" stroke="#e8465a" stroke-width="1" />
<line x1="159.50" y1="520.40" x2="159.50" y2="467.06" stroke="#e8465a" stroke-width="1" />
<line x1="163.50" y1="520.40" x2="163.50" y2="472.95" stroke="#e8465a" stroke-width="1" />
<line x1="167.50" y1="520.40" x2="167.50" y2="476.10" stroke="#e8465a" stroke-width="1" />
<line x1="171.50" y1="520.40" x2="171.50" y2="480.73" stroke="#e8465a" stroke-width="1" />
<line x1="175.50" y1="520.40" x2="175.50" y2="482.20" stroke="#e8465a" stroke-width="1" />
<line x1="179.50" y1="520.40" x2="179.50" y2="479.26" stroke="#e8465a" stroke-width="1" />
<line x1="183.50" y1="520.40" x2="183.50" y2="477.16" stroke="#e8465a" stroke-width="1" />
<line x1="187.50" y1="520.40" x2="187.50" y2="478.00" stroke="#e8465a" stroke-width="1" />
<line x1="191.50" y1="520.40" x2="191.50" y2="478.00" stroke="#e8465a" stroke-width="1" />
<line x1="195.50" y1="520.40" x2="195.50" y2="484.31" stroke="#e8465a" stroke-width="1" />
<line x1="199.50" y1="520.40" x2="199.50" y2="489.14" stroke="#e8465a" stroke-width="1" />
<line x1="203.50" y1="520.40" x2="203.50" y2="495.03" stroke="#e8465a" stroke-width="1" />
<line x1="207.50" y1="520.40" x2="207.50" y2="502.18" stroke="#e8465a" stroke-width="1" />
<line x1="211.50" y1="520.40" x2="211.50" y2="510.17" stroke="#e8465a" stroke-width="1" />
<line x1="215.50" y1="520.40" x2="215.50" y2="515.43" stroke="#e8465a" stroke-width="1" />
<line x1="219.50" y1="520.40" x2="219.50" y2="519.20" stroke="#e8465a" stroke-width="1" />
<line x1="223.50" y1="520.40" x2="223.50" y2="522.79" stroke="#4dae7b" stroke-width="1" />
<line x1="227.50" y1="520.40" x2="227.50" y2="524.89" stroke="#4dae7b" stroke-width="1" />
<line x1="231.50" y1="520.40" x2="231.50" y2="528.05" stroke="#4dae7b" stroke-width="1" />
<line x1="235.50" y1="520.40" x2="235.50" y2="532.68" stroke="#4dae7b" stroke-width="1" />
<line x1="239.50" y1="520.40" x2="239.50" y2="538.56" stroke="#4dae7b" stroke-width="1" />
<line x1="243.50" y1="520.40" x2="243.50" y2="542.77" stroke="#4dae7b" stroke-width="1" />
<line x1="247.50" y1="520.40" x2="247.50" y2="552.54" stroke="#4dae7b" stroke-width="1" />
<line x1="251.50" y1="520.40" x2="251.50" y2="562.82" stroke="#4dae7b" stroke-width="1" />
<line x1="255.50" y1="520.40" x2="255.50" y2="562.82" stroke="#4dae7b" stroke-width="1" />
<line x1="259.50" y1="520.40" x2="259.50" y2="562.82" stroke="#4dae7b" stroke-width="1" />
<line x1="263.50" y1="520.40" x2="263.50" y2="556.46" stroke="#4dae7b" stroke-width="1" />
<line x1="267.50" y1="520.40" x2="267.50" y2="552.26" stroke="#4dae7b" stroke-width="1" />
<line x1="271.50" y1="520.40" x2="271.50" y2="548.47" stroke="#4dae7b" stroke-width="1" />
<line x1="275.50" y1="520.40" x2="275.50" y2="545.53" stroke="#4dae7b" stroke-width="1" />
<line x1="279.50" y1="520.40" x2="279.50" y2="540.69" stroke="#4dae7b" stroke-width="1" />
<line x1="283.50" y1="520.40" x2="283.50" y2="543.42" stroke="#4dae7b" stroke-width="1" />
<line x1="287.50" y1="520.40" x2="287.50" y2="543.42" stroke="#4dae7b" stroke-width="1" />
<line x1="291.50" y1="520.40" x2="291.50" y2="541.74" stroke="#4dae7b" stroke-width="1" />
<line x1="295.50" y1="520.40" x2="295.50" y2="543.42" stroke="#4dae7b" stroke-width="1" />
<line x1="299.50" y1="520.40" x2="299.50" y2="542.79" stroke="#4dae7b" stroke-width="1" />
<line x1="303.50" y1="520.40" x2="303.50" y2="543.84" stroke="#4dae7b" stroke-width="1" />
<line x1="307.50" y1="520.40" x2="307.50" y2="547.00" stroke="#4dae7b" stroke-width="1" />
<line x1="311.50" y1="520.40" x2="311.50" y2="548.05" stroke="#4dae7b" stroke-width="1" />
<line x1="315.50" y1="520.40" x2="315.50" y2="543.84" stroke="#4dae7b" stroke-width="1" />
<line x1="319.50" y1="520.40" x2="319.50" y2="543.84" stroke="#4dae7b" stroke-width="1" />
<line x1="323.50" y1="520.40" x2="323.50" y2="543.84" stroke="#4dae7b" stroke-width="1" />
<line x1="327.50" y1="520.40" x2="327.50" y2="546.37" stroke="#4dae7b" stroke-width="1" />
<line x1="331.50" y1="520.40" x2="331.50" y2="543.84" stroke="#4dae7b" stroke-width="1" />
<line x1="335.50" y1="520.40" x2="335.50" y2="535.43" stroke="#4dae7b" stroke-width="1" />
<line x1="339.50" y1="520.40" x2="339.50" y2="537.53" stroke="#4dae7b" stroke-width="1" />
<line x1="343.50" y1="520.40" x2="343.50" y2="539.22" stroke="#4dae7b" stroke-width="1" />
<line x1="347.50" y1="520.40" x2="347.50" y2="540.69" stroke="#4dae7b" stroke-width="1" />
<line x1="351.50" y1="520.40" x2="351.50" y2="541.74" stroke="#4dae7b" stroke-width="1" />
<line x1="355.50" y1="520.40" x2="355.50" y2="542.79" stroke="#4dae7b" stroke-width="1" />
<line x1="359.50" y1="520.40" x2="359.50" y2="545.53" stroke="#4dae7b" stroke-width="1" />
<line x1="363.50" y1="520.40" x2="363.50" y2="538.59" stroke="#4dae7b" stroke-width="1" />
<line x1="367.50" y1="520.40" x2="367.50" y2="532.91" stroke="#4dae7b" stroke-width="1" />
<line x1="371.50" y1="520.40" x2="371.50" y2="525.97" stroke="#4dae7b" stroke-width="1" />
<line x1="375.50" y1="520.40" x2="375.50" y2="517.13" stroke="#e8465a" stroke-width="1" />
<line x1="379.50" y1="520.40" x2="379.50" y2="515.03" stroke="#e8465a" stroke-width="1" />
<line x1="383.50" y1="520.40" x2="383.50" y2="513.98" stroke="#e8465a" stroke-width="1" />
<line x1="387.50" y1="520.40" x2="387.50" y2="512.30" stroke="#e8465a" stroke-width="1" />
<line x1="391.50" y1="520.40" x2="391.50" y2="510.19" stroke="#e8465a" stroke-width="1" />
<line x1="395.50" y1="520.40" x2="395.50" y2="509.14" stroke="#e8465a" stroke-width="1" />
<line x1="399.50" y1="520.40" x2="399.50" y2="509.14" stroke="#e8465a" stroke-width="1" />
<line x1="403.50" y1="520.40" x2="403.50" y2="505.36" stroke="#e8465a" stroke-width="1" />
<line x1="407.50" y1="520.40" x2="407.50" y2="498.21" stroke="#e8465a" stroke-width="1" />
<line x1="411.50" y1="520.40" x2="411.50" y2="489.79" stroke="#e8465a" stroke-width="1" />
<line x1="415.50" y1="520.40" x2="415.50" y2="489.16" stroke="#e8465a" stroke-width="1" />
<line x1="419.50" y1="520.40" x2="419.50" y2="488.11" stroke="#e8465a" stroke-width="1" />
<line x1="423.50" y1="520.40" x2="423.50" y2="493.37" stroke="#e8465a" stroke-width="1" />
<line x1="427.50" y1="520.40" x2="427.50" y2="495.47" stroke="#e8465a" stroke-width="1" />
<line x1="431.50" y1="520.40" x2="431.50" y2="499.26" stroke="#e8465a" stroke-width="1" />
<line x1="435.50" y1="520.40" x2="435.50" y2="500.31" stroke="#e8465a" stroke-width="1" />
<line x1="439.50" y1="520.40" x2="439.50" y2="504.31" stroke="#e8465a" stroke-width="1" />
<line x1="443.50" y1="520.40" x2="443.50" y2="505.36" stroke="#e8465a" stroke-width="1" />
<line x1="447.50" y1="520.40" x2="447.50" y2="504.94" stroke="#e8465a" stroke-width="1" />
<line x1="451.50" y1="520.40" x2="451.50" y2="503.25" stroke="#e8465a" stroke-width="1" />
<line x1="455.50" y1="520.40" x2="455.50" y2="502.83" stroke="#e8465a" stroke-width="1" />
<line x1="459.50" y1="520.40" x2="459.50" y2="502.83" stroke="#e8465a" stroke-width="1" />
<line x1="463.50" y1="520.40" x2="463.50" y2="503.46" stroke="#e8465a" stroke-width="1" />
<line x1="467.50" y1="520.40" x2="467.50" y2="505.36" stroke="#e8465a" stroke-width="1" />
<line x1="471.50" y1="520.40" x2="471.50" y2="507.04" stroke="#e8465a" stroke-width="1" />
<line x1="475.50" y1="520.40" x2="475.50" y2="508.09" stroke="#e8465a" stroke-width="1" />
<line x1="479.50" y1="520.40" x2="479.50" y2="508.09" stroke="#e8465a" stroke-width="1" />
<line x1="483.50" y1="520.40" x2="483.50" y2="512.30" stroke="#e8465a" stroke-width="1" />
<line x1="487.50" y1="520.40" x2="487.50" y2="514.40" stroke="#e8465a" stroke-width="1" />
<line x1="491.50" y1="520.40" x2="491.50" y2="516.50" stroke="#e8465a" stroke-width="1" />
<line x1="495.50" y1="520.40" x2="495.50" y2="518.61" stroke="#e8465a" stroke-width="1" />
<line x1="499.50" y1="520.40" x2="499.50" y2="517.13" stroke="#e8465a" stroke-width="1" />
<line x1="503.50" y1="520.40" x2="503.50" y2="521.60" stroke="#4dae7b" stroke-width="1" />
<line x1="507.50" y1="520.40" x2="507.50" y2="523.86" stroke="#4dae7b" stroke-width="1" />
<line x1="511.50" y1="520.40" x2="511.50" y2="523.86" stroke="#4dae7b" stroke-width="1" />
<line x1="515.50" y1="520.40" x2="515.50" y2="525.97" stroke="#4dae7b" stroke-width="1" />
<line x1="519.50" y1="520.40" x2="519.50" y2="530.80" stroke="#4dae7b" stroke-width="1" />
<line x1="523.50" y1="520.40" x2="523.50" y2="539.64" stroke="#4dae7b" stroke-width="1" />
<line x1="527.50" y1="520.40" x2="527.50" y2="544.47" stroke="#4dae7b" stroke-width="1" />
<line x1="531.50" y1="520.40" x2="531.50" y2="544.26" stroke="#4dae7b" stroke-width="1" />
<line x1="535.50" y1="520.40" x2="535.50" y2="543.84" stroke="#4dae7b" stroke-width="1" />
<line x1="539.50" y1="520.40" x2="539.50" y2="542.79" stroke="#4dae7b" stroke-width="1" />
<line x1="543.50" y1="520.40" x2="543.50" y2="545.53" stroke="#4dae7b" stroke-width="1" />
<line x1="547.50" y1="520.40" x2="547.50" y2="541.32" stroke="#4dae7b" stroke-width="1" />
<line x1="551.50" y1="520.40" x2="551.50" y2="535.85" stroke="#4dae7b" stroke-width="1" />
<line x1="555.50" y1="520.40" x2="555.50" y2="532.91" stroke="#4dae7b" stroke-width="1" />
<line x1="559.50" y1="520.40" x2="559.50" y2="530.80" stroke="#4dae7b" stroke-width="1" />
<line x1="563.50" y1="520.40" x2="563.50" y2="523.86" stroke="#4dae7b" stroke-width="1" />
<line x1="567.50" y1="520.40" x2="567.50" y2="518.61" stroke="#e8465a" stroke-width="1" />
<line x1="571.50" y1="520.40" x2="571.50" y2="516.50" stroke="#e8465a" stroke-width="1" />
<line x1="575.50" y1="520.40" x2="575.50" y2="504.31" stroke="#e8465a" stroke-width="1" />
<line x1="579.50" y1="520.40" x2="579.50" y2="493.37" stroke="#e8465a" stroke-width="1" />
<line x1="583.50" y1="520.40" x2="583.50" y2="489.16" stroke="#e8465a" stroke-width="1" />
<line x1="587.50" y1="520.40" x2="587.50" y2="487.69" stroke="#e8465a" stroke-width="1" />
<line x1="591.50" y1="520.40" x2="591.50" y2="491.90" stroke="#e8465a" stroke-width="1" />
<line x1="595.50" y1="520.40" x2="595.50" y2="495.05" stroke="#e8465a" stroke-width="1" />
<line x1="599.50" y1="520.40" x2="599.50" y2="496.10" stroke="#e8465a" stroke-width="1" />
<line x1="603.50" y1="520.40" x2="603.50" y2="500.10" stroke="#e8465a" stroke-width="1" />
<line x1="607.50" y1="520.40" x2="607.50" y2="504.31" stroke="#e8465a" stroke-width="1" />
<line x1="611.50" y1="520.40" x2="611.50" y2="508.09" stroke="#e8465a" stroke-width="1" />
<line x1="615.50" y1="520.40" x2="615.50" y2="511.25" stroke="#e8465a" stroke-width="1" />
<line x1="619.50" y1="520.40" x2="619.50" y2="515.03" stroke="#e8465a" stroke-width="1" />
<line x1="623.50" y1="520.40" x2="623.50" y2="517.13" stroke="#e8465a" stroke-width="1" />
<line x1="627.50" y1="520.40" x2="627.50" y2="518.19" stroke="#e8465a" stroke-width="1" />
<line x1="631.50" y1="520.40" x2="631.50" y2="521.60" stroke="#4dae7b" stroke-width="1" />
<line x1="635.50" y1="520.40" x2="635.50" y2="523.86" stroke="#4dae7b" stroke-width="1" />
<line x1="639.50" y1="520.40" x2="639.50" y2="523.86" stroke="#4dae7b" stroke-width="1" />
<line x1="643.50" y1="520.40" x2="643.50" y2="529.75" stroke="#4dae7b" stroke-width="1" />
<line x1="647.50" y1="520.40" x2="647.50" y2="536.90" stroke="#4dae7b" stroke-width="1" />
<line x1="651.50" y1="520.40" x2="651.50" y2="540.69" stroke="#4dae7b" stroke-width="1" />
<line x1="655.50" y1="520.40" x2="655.50" y2="541.74" stroke="#4dae7b" stroke-width="1" />
<line x1="659.50" y1="520.40" x2="659.50" y2="540.69" stroke="#4dae7b" stroke-width="1" />
<line x1="663.50" y1="520.40" x2="663.50" y2="543.84" stroke="#4dae7b" stroke-width="1" />
<line x1="667.50" y1="520.40" x2="667.50" y2="542.16" stroke="#4dae7b" stroke-width="1" />
<line x1="671.50" y1="520.40" x2="671.50" y2="537.53" stroke="#4dae7b" stroke-width="1" />
<line x1="675.50" y1="520.40" x2="675.50" y2="531.86" stroke="#4dae7b" stroke-width="1" />
<line x1="679.50" y1="520.40" x2="679.50" y2="527.02" stroke="#4dae7b" stroke-width="1" />
<line x1="683.50" y1="520.40" x2="683.50" y2="523.86" stroke="#4dae7b" stroke-width="1" />
<line x1="687.50" y1="520.40" x2="687.50" y2="523.86" stroke="#4dae7b" stroke-width="1" />
<line x1="691.50" y1="520.40" x2="691.50" y2="523.86" stroke="#4dae7b" stroke-width="1" />
<line x1="695.50" y1="520.40" x2="695.50" y2="525.97" stroke="#4dae7b" stroke-width="1" />
<line x1="699.50" y1="520.40" x2="699.50" y2="528.70" stroke="#4dae7b" stroke-width="1" />
<line x1="703.50" y1="520.40" x2="703.50" y2="534.38" stroke="#4dae7b" stroke-width="1" />
<line x1="707.50" y1="520.40" x2="707.50" y2="537.95" stroke="#4dae7b" stroke-width="1" />
<line x1="711.50" y1="520.40" x2="711.50" y2="537.53" stroke="#4dae7b" stroke-width="1" />
<line x1="715.50" y1="520.40" x2="715.50" y2="534.38" stroke="#4dae7b" stroke-width="1" />
<line x1="719.50" y1="520.40" x2="719.50" y2="531.86" stroke="#4dae7b" stroke-width="1" />
<line x1="723.50" y1="520.40" x2="723.50" y2="531.86" stroke="#4dae7b" stroke-width="1" />
<polyline fill="none" stroke="#45c48a" stroke-width="1" stroke-linejoin="round" shape-rendering="crispEdges"  points="75.2,533.0 82.6,539.3 91.0,545.0 99.4,547.7 107.8,548.3 116.2,547.1 124.6,545.6 133.0,541.4 139.3,535.1 143.6,523.8 154.1,504.9 164.6,488.1 175.2,475.1 185.7,460.8 196.2,448.1 206.7,441.4 217.2,439.3 227.7,440.1 238.2,442.9 246.7,449.2 255.1,460.8 263.5,471.3 269.8,477.6 270.5,478.6 281.0,487.1 297.9,497.6 312.6,509.1 327.3,520.3 339.9,528.1 350.4,535.4 360.9,542.8 369.4,545.5 377.8,545.5 386.2,543.4 396.7,540.7 407.2,534.4 417.7,524.9 426.1,518.2 438.8,510.6 449.3,504.9 450.0,506.0 458.4,500.1 471.0,494.4 485.8,490.2 500.5,489.2 511.0,490.2 519.4,492.3 527.8,497.6 538.3,505.6 548.8,512.7 559.4,517.1 567.8,517.6 574.1,515.5 582.5,508.1 593.0,498.0 601.4,492.3 611.9,487.7 620.5,486.4 633.1,486.4 641.5,487.7 652.1,492.9 662.6,500.1 673.1,505.4 679.4,507.7 689.9,509.1 700.4,510.6 706.7,514.0 713.0,517.6 719.4,519.7 723.6,520.7"/>
<polyline fill="none" stroke="#3a8cf0" stroke-width="1" stroke-linejoin="round" shape-rendering="crispEdges"  points="75.2,548.3 82.6,551.9 91.0,552.3 96.2,554.4 101.5,553.0 107.8,549.8 114.1,544.1 117.2,542.5 122.5,541.4 131.9,535.1 135.2,523.8 142.6,494.4 148.9,484.9 156.2,473.8 162.5,468.1 168.8,462.9 177.3,453.4 184.6,442.9 192.0,434.5 198.3,431.7 204.6,431.3 210.9,434.5 219.3,438.7 226.7,441.8 236.1,450.2 244.6,459.7 250.9,475.5 256.1,484.9 263.5,490.6 269.8,492.7 268.4,492.3 274.7,495.1 280.0,495.5 283.1,499.7 291.5,503.9 302.1,512.3 310.5,522.8 315.7,523.9 322.0,528.1 327.3,533.3 332.6,535.4 339.5,535.4 344.1,540.7 352.5,548.0 359.9,554.4 367.3,551.8 375.7,543.8 386.2,539.2 396.7,535.4 404.1,530.8 411.4,517.6 417.7,510.2 428.2,505.6 438.8,502.2 445.1,500.1 453.5,494.4 456.3,492.3 463.7,489.2 471.0,488.7 478.4,486.4 485.8,487.5 494.2,488.7 501.5,488.7 508.9,492.3 515.2,493.8 520.5,498.6 525.7,506.0 534.1,513.3 540.4,518.6 546.7,523.2 555.2,522.4 559.4,522.4 564.6,518.6 570.9,515.5 576.2,506.0 582.5,493.4 587.7,487.7 595.1,485.0 601.4,481.8 608.8,481.8 618.4,484.3 628.9,486.0 639.4,488.5 644.7,494.4 652.1,502.8 658.4,507.0 664.7,512.3 669.9,514.4 675.2,513.3 682.6,510.6 689.9,510.6 696.2,512.3 701.5,516.5 706.7,521.8 712.0,524.9 715.2,526.0 719.4,524.9 723.6,526.6"/>
<text x="74.10" y="14.20" fill="#000" font-size="12.1" font-weight="normal" font-family='"Liberation Sans","Noto Sans CJK SC",sans-serif'>美元日元</text>
<text x="120.60" y="14.20" fill="#ff8000" font-size="12" font-weight="normal" font-family='"Liberation Sans","Noto Sans CJK SC",sans-serif'>【</text>
<text x="134.00" y="13.90" fill="#ff8000" font-size="12.4" font-weight="normal" textLength="22.30" lengthAdjust="spacingAndGlyphs">240</text>
<text x="155.80" y="14.30" fill="#ff8000" font-size="12" font-weight="normal" font-family='"Liberation Sans","Noto Sans CJK SC",sans-serif'>分</text>
<text x="167.80" y="14.30" fill="#ff8000" font-size="12" font-weight="normal" font-family='"Liberation Sans","Noto Sans CJK SC",sans-serif'>】</text>
<circle cx="183.6" cy="11.3" r="4.1" fill="none" stroke="#ff8000" stroke-width="0.8"/>
<line x1="179.50" y1="11.30" x2="187.70" y2="11.30" stroke="#ff8000" stroke-width="0.8" />
<line x1="183.60" y1="7.20" x2="183.60" y2="15.40" stroke="#ff8000" stroke-width="0.8" />
<rect x="197.5" y="2.5" width="11" height="12" rx="1.2" fill="none" stroke="#b4b4a8" stroke-width="1"/>
<rect x="196.5" y="1.5" width="11" height="12" rx="1.2" fill="#fff" stroke="#00008c" stroke-width="1.1"/>
<polyline fill="none" stroke="#ff1010" stroke-width="1.2" stroke-linejoin="round" shape-rendering="crispEdges"  points="197.3,8.6 200.5,4.6 203.5,7.6 205.4,5.6 207.0,5.6"/>
<polyline fill="none" stroke="#1010ff" stroke-width="1.2" stroke-linejoin="round" shape-rendering="crispEdges"  points="197.3,11.8 200.5,7.7 203.5,10.7 205.4,8.5 207.0,8.5"/>
<text x="211.40" y="13.90" fill="#111" font-size="12.4" font-weight="normal" textLength="152.50" lengthAdjust="spacingAndGlyphs">EXPMA(20,50,200,200,200)</text>
<text x="368.20" y="13.90" fill="#4498ee" font-size="12.4" font-weight="normal" textLength="75.10" lengthAdjust="spacingAndGlyphs">MA1:153.509</text>
<text x="451.40" y="13.90" fill="#45c48a" font-size="12.4" font-weight="normal" textLength="75.00" lengthAdjust="spacingAndGlyphs">MA2:153.342</text>
<text x="534.50" y="13.90" fill="#3caae6" font-size="12.4" font-weight="normal" textLength="74.90" lengthAdjust="spacingAndGlyphs">MA3:151.533</text>
<text x="617.10" y="13.90" fill="#ff9040" font-size="12.4" font-weight="normal" textLength="74.90" lengthAdjust="spacingAndGlyphs">MA4:151.533</text>
<text x="700.30" y="13.90" fill="#ea84ea" font-size="12.4" font-weight="normal" textLength="43.80" lengthAdjust="spacingAndGlyphs">MA5:15</text>
<rect x="820.5" y="1.5" width="13" height="13" fill="#fff" stroke="#1b7bd4" stroke-width="1"/>
<rect x="836.5" y="1.5" width="13" height="13" fill="#fff" stroke="#1b7bd4" stroke-width="1"/>
<rect x="852.5" y="1.5" width="13" height="13" fill="#1b7bd4" stroke="#1b7bd4" stroke-width="1"/>
<rect x="868.5" y="1.5" width="13" height="13" fill="#fff" stroke="#1b7bd4" stroke-width="1"/>
<rect x="822.10" y="7.00" width="2.9" height="1.6" fill="#1b7bd4"/>
<rect x="829.00" y="7.00" width="2.9" height="1.6" fill="#1b7bd4"/>
<rect x="826.20" y="3.10" width="1.6" height="2.5" fill="#1b7bd4"/>
<rect x="826.20" y="10.10" width="1.6" height="2.5" fill="#1b7bd4"/>
<rect x="826.10" y="6.90" width="1.8" height="1.8" fill="#1b7bd4"/>
<line x1="839.50" y1="3.40" x2="839.50" y2="12.40" stroke="#1b7bd4" stroke-width="1.4" />
<line x1="838.10" y1="12.00" x2="847.70" y2="12.00" stroke="#1b7bd4" stroke-width="1.4" />
<path d="M838.0 4.9 L839.5 3 L841.0 4.9 M839.4 10.6 L837.8 12 L839.4 13.4 M846.5 10.6 L848.1 12 L846.5 13.4" fill="none" stroke="#1b7bd4" stroke-width="1.1"/>
<line x1="842.20" y1="4.70" x2="842.20" y2="9.80" stroke="#1b7bd4" stroke-width="1.5" />
<path d="M845.9 4.7 L845.9 9.8 L843.3 7.25 Z" fill="#1b7bd4"/>
<line x1="855.50" y1="3.40" x2="855.50" y2="12.40" stroke="#fff" stroke-width="1.4" />
<line x1="854.10" y1="12.00" x2="863.70" y2="12.00" stroke="#fff" stroke-width="1.4" />
<path d="M854.0 4.9 L855.5 3 L857.0 4.9 M855.4 10.6 L853.8 12 L855.4 13.4 M862.5 10.6 L864.1 12 L862.5 13.4" fill="none" stroke="#fff" stroke-width="1.1"/>
<line x1="858.10" y1="4.70" x2="858.10" y2="9.80" stroke="#fff" stroke-width="1.5" />
<path d="M859.1 4.7 L859.1 9.8 L862.9 7.25 Z" fill="#e8f2fb"/>
<rect x="871.1" y="3.4" width="2.8" height="9" fill="none" stroke="#1b7bd4" stroke-width="1.3"/>
<line x1="872.90" y1="7.75" x2="877.50" y2="7.75" stroke="#1b7bd4" stroke-width="1.8" />
<path d="M876.9 5.4 L879.7 7.75 L876.9 10.1 Z" fill="#1b7bd4"/>
<polygon points="9.5,412.5 12.5,412.5 14.5,414.5 14.5,417.5 12.5,419.5 9.5,419.5 7.5,417.5 7.5,414.5" fill="#fff" stroke="#111" stroke-width="1"/>
<rect x="9" y="414" width="4" height="4" rx="1.2" fill="#ff0000"/>
<rect x="4" y="415" width="2" height="1" fill="#ff0000"/>
<rect x="16" y="415" width="2" height="1" fill="#ff0000"/>
<rect x="10" y="409" width="1" height="2" fill="#ff0000"/>
<rect x="10" y="421" width="1" height="2" fill="#ff0000"/>
<rect x="5" y="410" width="1" height="1" fill="#ff0000"/>
<rect x="6" y="411" width="1" height="1" fill="#ff0000"/>
<rect x="16" y="410" width="1" height="1" fill="#ff0000"/>
<rect x="15" y="411" width="1" height="1" fill="#ff0000"/>
<rect x="5" y="421" width="1" height="1" fill="#ff0000"/>
<rect x="6" y="420" width="1" height="1" fill="#ff0000"/>
<rect x="15" y="420" width="1" height="1" fill="#ff0000"/>
<rect x="16" y="421" width="1" height="1" fill="#ff0000"/>
<text x="74.10" y="422.90" fill="#111" font-size="12.4" font-weight="normal" textLength="86.30" lengthAdjust="spacingAndGlyphs">MACD(26,12,9)</text>
<text x="164.50" y="422.90" fill="#4498ee" font-size="12.4" font-weight="normal" textLength="63.00" lengthAdjust="spacingAndGlyphs">DIFF:-0.094</text>
<text x="236.30" y="422.90" fill="#45c48a" font-size="12.4" font-weight="normal" textLength="62.50" lengthAdjust="spacingAndGlyphs">DEA:-0.021</text>
<text x="307.60" y="422.90" fill="#3caae6" font-size="12.4" font-weight="normal" textLength="75.30" lengthAdjust="spacingAndGlyphs">MACD:-0.146</text>
<line x1="79.50" y1="564.00" x2="79.50" y2="569.00" stroke="#b8c0cc" stroke-width="1" />
<text x="81.40" y="576.00" fill="#1a1a2e" font-size="12" font-weight="bold" text-anchor="start" >10/02</text>
<line x1="223.50" y1="564.00" x2="223.50" y2="569.00" stroke="#b8c0cc" stroke-width="1" />
<text x="225.40" y="576.00" fill="#1a1a2e" font-size="12" font-weight="bold" text-anchor="start" >10/10</text>
<line x1="375.50" y1="564.00" x2="375.50" y2="569.00" stroke="#b8c0cc" stroke-width="1" />
<text x="377.40" y="576.00" fill="#1a1a2e" font-size="12" font-weight="bold" text-anchor="start" >10/20</text>
<line x1="535.50" y1="564.00" x2="535.50" y2="569.00" stroke="#b8c0cc" stroke-width="1" />
<text x="537.40" y="576.00" fill="#1a1a2e" font-size="12" font-weight="bold" text-anchor="start" >10/29</text>
<line x1="703.50" y1="564.00" x2="703.50" y2="569.00" stroke="#b8c0cc" stroke-width="1" />
<text x="705.40" y="576.00" fill="#1a1a2e" font-size="12" font-weight="bold" text-anchor="start" >11/07</text>
<rect x="2.5" y="563.5" width="69.5" height="19" fill="#fff" stroke="#d5dae3" stroke-width="1"/>
<text x="12.00" y="578.70" fill="#ff7a00" font-size="12" font-weight="bold" textLength="22.10" lengthAdjust="spacingAndGlyphs">240</text>
<text x="33.70" y="578.80" fill="#ff7a00" font-size="11.8" font-weight="bold" font-family='"Liberation Sans","Noto Sans CJK SC",sans-serif'>分</text>
<path d="M55 570.3 L59.2 577.6 L50.8 577.6 Z" fill="#ff7a00"/>
<rect x="2" y="583" width="39" height="2" fill="#ff6a00"/>
<line x1="41.00" y1="583.50" x2="953.00" y2="583.50" stroke="#e3e6ea" stroke-width="1" />
<line x1="282.00" y1="583.50" x2="345.00" y2="583.50" stroke="#c9ced6" stroke-width="1" />
<line x1="842.00" y1="583.50" x2="953.00" y2="583.50" stroke="#c9ced6" stroke-width="1" />
<line x1="81.50" y1="583.00" x2="81.50" y2="585.00" stroke="#d0d4da" stroke-width="1" />
<line x1="139.50" y1="583.00" x2="139.50" y2="585.00" stroke="#d0d4da" stroke-width="1" />
<line x1="185.50" y1="583.00" x2="185.50" y2="585.00" stroke="#d0d4da" stroke-width="1" />
<line x1="213.50" y1="583.00" x2="213.50" y2="585.00" stroke="#d0d4da" stroke-width="1" />
<line x1="253.50" y1="583.00" x2="253.50" y2="585.00" stroke="#d0d4da" stroke-width="1" />
<line x1="281.50" y1="583.00" x2="281.50" y2="585.00" stroke="#d0d4da" stroke-width="1" />
<line x1="381.50" y1="583.00" x2="381.50" y2="585.00" stroke="#d0d4da" stroke-width="1" />
<line x1="415.50" y1="583.00" x2="415.50" y2="585.00" stroke="#d0d4da" stroke-width="1" />
<line x1="625.50" y1="583.00" x2="625.50" y2="585.00" stroke="#d0d4da" stroke-width="1" />
<text x="824.20" y="560.30" fill="#cdb7a8" font-size="30" font-weight="normal" text-anchor="start" letter-spacing="2.9" stroke="#cdb7a8" stroke-width="0.5">FX678</text>
<text x="823.20" y="559.30" fill="#dde8f8" font-size="30" font-weight="normal" text-anchor="start" letter-spacing="2.9" stroke="#dde8f8" stroke-width="0.5">FX678</text>
</svg>
</body></html>
